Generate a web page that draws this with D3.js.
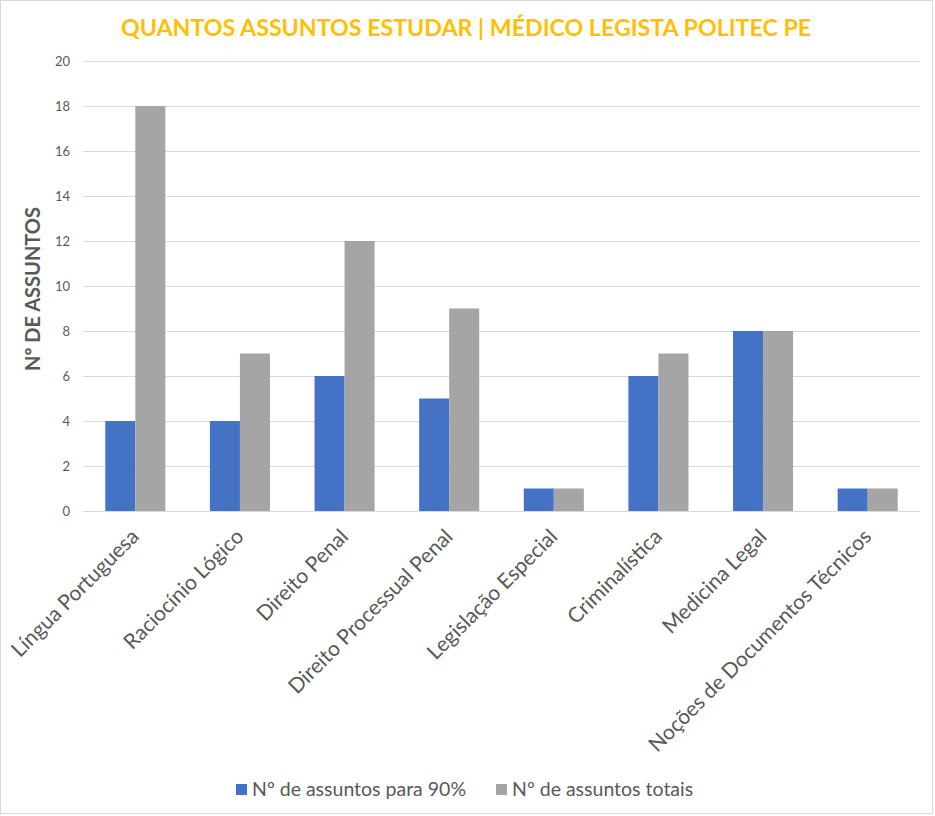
<!DOCTYPE html>
<html><head><meta charset="utf-8">
<script src="https://cdn.jsdelivr.net/npm/d3@7"></script>
<style>body{margin:0;background:#fff}svg{display:block}</style>
</head><body>
<script>
const categories = ["Língua Portuguesa","Raciocínio Lógico","Direito Penal","Direito Processual Penal","Legislação Especial","Criminalística","Medicina Legal","Noções de Documentos Técnicos"];
const seriesNames = ["Nº de assuntos para 90%","Nº de assuntos totais"];
const values90 = [4,4,6,5,1,6,8,1];
const valuesTotal = [18,7,12,9,1,7,8,1];
const yTicks = [0,2,4,6,8,10,12,14,16,18,20];
const colors = ["#4472C4","#A5A5A5"];

const W = 935, H = 816;
const svg = d3.select("body").append("svg").attr("width", W).attr("height", H);
svg.append("rect").attr("x",0.5).attr("y",0.5).attr("width",W-3).attr("height",H-3)
  .attr("fill","#fff").attr("stroke","#d9d9d9");

const plot = {left:83, right:920, top:61, bottom:511};
const x = d3.scaleBand().domain(categories).range([plot.left, plot.right]).paddingInner(0.426).paddingOuter(0.213);
const x1 = d3.scaleBand().domain(seriesNames).range([0, x.bandwidth()]);
const y = d3.scaleLinear().domain([0,20]).range([plot.bottom, plot.top]);

svg.append("text").attr("x", 466).attr("y", 36).attr("text-anchor","middle")
  .attr("font-family","Lato").attr("font-weight","bold").attr("font-size",23.2)
  .attr("fill","#FFC000").text("QUANTOS ASSUNTOS ESTUDAR | MÉDICO LEGISTA POLITEC PE");

// grid
svg.append("g").selectAll("line").data(yTicks).join("line")
  .attr("x1", plot.left).attr("x2", plot.right)
  .attr("y1", d=>y(d)+0.5).attr("y2", d=>y(d)+0.5)
  .attr("stroke","#d9d9d9").attr("stroke-width",1);

// y axis labels
const yAxis = d3.axisLeft(y).tickValues(yTicks).tickSize(0).tickPadding(0);
const ga = svg.append("g").attr("transform",`translate(70,0)`).call(yAxis);
ga.select(".domain").remove();
ga.selectAll("text").attr("font-family","Lato").attr("font-size",13).attr("fill","#595959");

svg.append("text").attr("transform","translate(40,289) rotate(-90)").attr("text-anchor","middle")
  .attr("font-family","Lato").attr("font-weight","bold").attr("font-size",20).attr("fill","#595959")
  .text("Nº DE ASSUNTOS");

// bars
const data = categories.map((c,i)=>({c, vals:[values90[i], valuesTotal[i]]}));
const g = svg.append("g").selectAll("g").data(data).join("g")
  .attr("transform", d=>`translate(${x(d.c)},0)`);
g.selectAll("rect").data(d=>d.vals.map((v,j)=>({v, s:seriesNames[j], j}))).join("rect")
  .attr("x", d=>x1(d.s)).attr("width", x1.bandwidth())
  .attr("y", d=>y(d.v)).attr("height", d=>y(0)-y(d.v))
  .attr("fill", d=>colors[d.j]);

// x labels
svg.append("g").selectAll("text").data(categories).join("text")
  .attr("transform", d=>`translate(${x(d)+x.bandwidth()/2-7},${plot.bottom+15}) rotate(-45)`)
  .attr("text-anchor","end").attr("dominant-baseline","hanging")
  .attr("font-family","Lato").attr("font-size",21).attr("fill","#595959")
  .text(d=>d);

// legend
const leg = [{s:seriesNames[0], x:236},{s:seriesNames[1], x:496}];
const lg = svg.append("g").selectAll("g").data(leg).join("g").attr("transform",d=>`translate(${d.x},784)`);
lg.append("rect").attr("width",11).attr("height",11).attr("fill",(d,i)=>colors[i]);
lg.append("text").attr("x",16).attr("y",12).attr("font-family","Lato").attr("font-size",19.5)
  .attr("fill","#595959").text(d=>d.s);
</script>
</body></html>
